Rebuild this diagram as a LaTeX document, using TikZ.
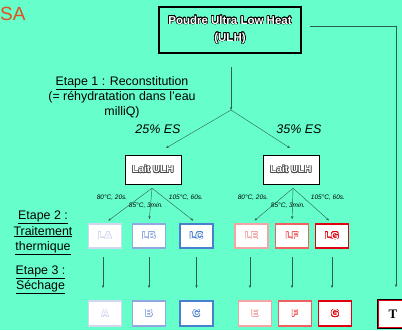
\documentclass[tikz,border=0pt]{standalone}
\usepackage{fontspec}
\setmainfont{Liberation Sans}
\newfontfamily\serifT{Liberation Serif}
\usepackage[copies]{contour}
\contourlength{0.55pt}
\usetikzlibrary{calc,arrows.meta,shadows}

\definecolor{fond}{RGB}{102,255,204}
\definecolor{trait}{RGB}{45,95,80}
\definecolor{saCol}{RGB}{226,80,30}
\definecolor{colA}{RGB}{208,216,240}
\definecolor{colB}{RGB}{144,168,224}
\definecolor{colC}{RGB}{72,128,208}
\definecolor{colE}{RGB}{244,164,164}
\definecolor{colF}{RGB}{240,96,96}
\definecolor{colG}{RGB}{224,0,16}

\newcommand{\bordTexte}[2]{\textcolor{white}{\contour{#1}{#2}}}

\begin{document}
\begin{tikzpicture}[x=1pt,y=-1pt]
%styles
\tikzstyle{textLine}=[rectangle, text=black, inner sep=0pt, align=center]
\tikzstyle{etape}=[textLine, font=\fontsize{12.4}{15}\selectfont]
\tikzstyle{temp}=[textLine, font=\fontsize{6.5}{7}\selectfont\itshape]
\tikzstyle{vector}=[-{Stealth[length=3pt,width=2.4pt]}, thin, draw=trait]
\tikzstyle{laitBox}=[rectangle, draw=black, fill=white, minimum width=56pt, minimum height=29pt,
  font=\bfseries\fontsize{10}{12}\selectfont,
  drop shadow={shadow xshift=1.2pt, shadow yshift=-1.2pt, fill=black, opacity=1}]
\tikzstyle{echBox}=[rectangle, fill=white, line width=1.8pt, minimum width=33pt, minimum height=24pt,
  font=\bfseries\fontsize{10}{12}\selectfont]
\tikzstyle{poudreBox}=[echBox, minimum height=25pt]
%figure
\fill[fond] (0,0) rectangle (402,330);
\useasboundingbox (0,0) rectangle (402,330);

\node[textLine, anchor=west, text=saCol, font=\fontsize{19}{20}\selectfont] (sa) at (0,14) {SA};

\node[rectangle, draw=black, line width=2.2pt, minimum width=142pt, minimum height=46pt, align=center,
  font=\bfseries\fontsize{11.5}{17}\selectfont] (poudre) at (230,30)
  {\bordTexte{black}{Poudre Ultra Low Heat}\\ \bordTexte{black}{(ULH)}};

%text
\node[etape] (etape1) at (122,97) {\underline{Etape 1 : Reconstitution}\\(= réhydratation dans l'eau\\milliQ)};
\node[etape, font=\fontsize{12.5}{14}\selectfont\itshape] (es25) at (158,129) {25\% ES};
\node[etape, font=\fontsize{12.5}{14}\selectfont\itshape] (es35) at (299,129) {35\% ES};
\node[etape, font=\fontsize{12.4}{15.5}\selectfont] (etape2) at (43,233) {\underline{Etape 2 :}\\\underline{Traitement}\\\underline{thermique}};
\node[etape] (etape3) at (40.5,280) {\underline{Etape 3 :}\\\underline{Séchage}};

%lait
\node[laitBox] (laitG) at (153,169.5) {\bordTexte{black!70}{Lait ULH}};
\node[laitBox] (laitD) at (291,169.5) {\bordTexte{black!70}{Lait ULH}};

\coordinate (d1) at (231,67);
\coordinate (j1) at (231,110);
\coordinate (a25) at (166,148);
\coordinate (a35) at (290,148);
\coordinate (sG) at ($(laitG.south)+(-1,4)$);
\coordinate (sD) at ($(laitD.south)+(2,4)$);

%traitement
\node[echBox, draw=colA] (la) at (105,236) {\bordTexte{colA}{LA}};
\node[echBox, draw=colB] (lb) at (149,236) {\bordTexte{colB}{LB}};
\node[echBox, draw=colC] (lc) at (196.5,236) {\bordTexte{colC}{LC}};
\node[echBox, draw=colE] (le) at (251.5,236) {\bordTexte{colE}{LE}};
\node[echBox, draw=colF] (lf) at (292,236) {\bordTexte{colF}{LF}};
\node[echBox, draw=colG] (lg) at (332,236) {\bordTexte{colG}{LG}};

\node[temp] (tG1) at (112,198) {80°C, 20s.};
\node[temp] (tG2) at (146,206) {85°C, 3min.};
\node[temp] (tG3) at (186,198) {105°C, 60s.};
\node[temp] (tD1) at (253,198) {80°C, 20s.};
\node[temp] (tD2) at (288,206) {85°C, 3min.};
\node[temp] (tD3) at (328,198) {105°C, 60s.};

%poudres
\node[poudreBox, draw=colA] (a) at (105,313.5) {\bordTexte{colA}{A}};
\node[poudreBox, draw=colB] (b) at (149,313.5) {\bordTexte{colB}{B}};
\node[poudreBox, draw=colC] (c) at (196.5,313.5) {\bordTexte{colC}{C}};
\node[poudreBox, draw=colE] (e) at (255,313.5) {\bordTexte{colE}{E}};
\node[poudreBox, draw=colF] (f) at (295,313.5) {\bordTexte{colF}{F}};
\node[poudreBox, draw=colG] (g) at (335,313.5) {\bordTexte{colG}{G}};
\node[rectangle, draw=black, fill=white, line width=1.6pt, minimum width=30pt, minimum height=28pt,
  font=\serifT\bfseries\fontsize{13}{14}\selectfont] (t) at (393,314) {T};
\draw[colG, line width=0.9pt] ([xshift=1.5pt,yshift=-1.5pt]t.north west) rectangle ([xshift=-1.5pt,yshift=1.5pt]t.south east);

%vecteur
\draw[vector] (d1) -- (j1);
\draw[vector] (j1) -- (a25);
\draw[vector] (j1) -- (a35);

\draw[vector, shorten >=4pt] (sG) -- (la.north);
\draw[vector, shorten >=4pt] (sG) -- (lb.north);
\draw[vector, shorten >=4pt] (sG) -- (lc.north);
\draw[vector, shorten >=4pt] (sD) -- (le.north);
\draw[vector, shorten >=4pt] (sD) -- (lf.north);
\draw[vector, shorten >=4pt] (sD) -- (lg.north);

\draw[vector, shorten <=8pt, shorten >=12pt] ([xshift=-2pt]la.south) -- ([xshift=-2pt]la.south |- a.north);
\draw[vector, shorten <=8pt, shorten >=12pt] (lb.south) -- (lb.south |- b.north);
\draw[vector, shorten <=8pt, shorten >=12pt] (lc.south) -- (lc.south |- c.north);
\draw[vector, shorten <=8pt, shorten >=12pt] ([xshift=-1.5pt]le.south) -- ([xshift=-1.5pt]le.south |- e.north);
\draw[vector, shorten <=8pt, shorten >=12pt] (lf.south) -- (lf.south |- f.north);
\draw[vector, shorten <=8pt, shorten >=12pt] (lg.south) -- (lg.south |- g.north);

\draw[vector, shorten >=12pt] ([xshift=8pt,yshift=4pt]poudre.east) -| ([xshift=3pt]t.north);
\end{tikzpicture}
\end{document}
